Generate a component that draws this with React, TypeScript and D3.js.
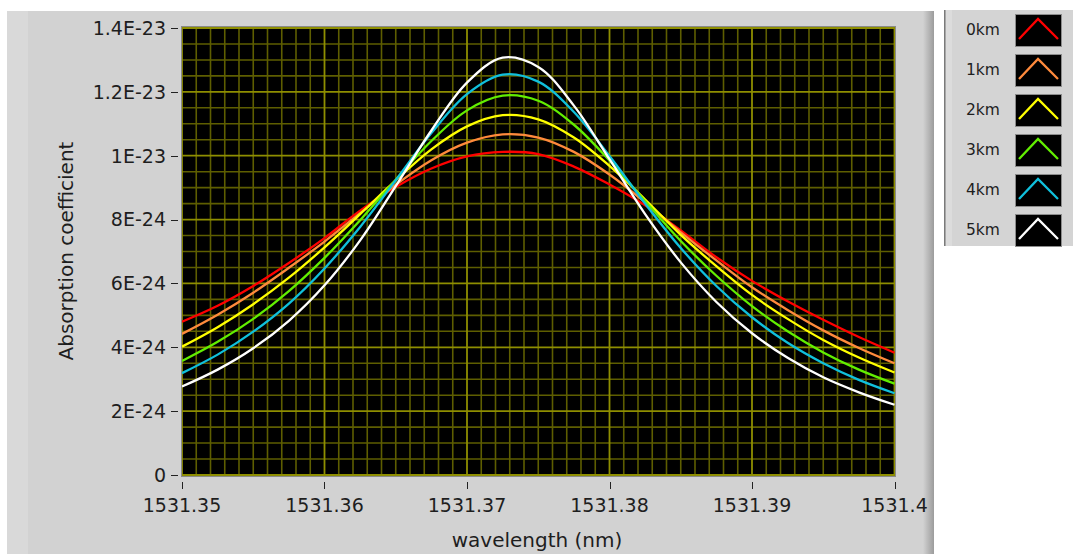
import React from "react";
import * as d3 from "d3";

// ---------- data ----------
const wavelengths = [
  1531.35, 1531.3525, 1531.355, 1531.3575, 1531.36, 1531.3625, 1531.365,
  1531.3675, 1531.37, 1531.3725, 1531.375, 1531.3775, 1531.38, 1531.3825,
  1531.385, 1531.3875, 1531.39, 1531.3925, 1531.395, 1531.3975, 1531.4,
];
const UNIT = 1e-24;
const km0 = [4.80, 5.30, 5.92, 6.64, 7.42, 8.28, 9.02, 9.60, 9.98, 10.12, 10.05, 9.66, 9.10, 8.45, 7.66, 6.82, 6.08, 5.44, 4.86, 4.32, 3.83];
const km1 = [4.42, 5.02, 5.71, 6.49, 7.31, 8.20, 9.09, 9.86, 10.41, 10.67, 10.57, 10.12, 9.41, 8.54, 7.60, 6.72, 5.88, 5.17, 4.53, 3.98, 3.50];
const km2 = [4.02, 4.63, 5.35, 6.18, 7.13, 8.17, 9.23, 10.20, 10.92, 11.27, 11.14, 10.57, 9.68, 8.63, 7.52, 6.54, 5.64, 4.89, 4.23, 3.68, 3.21];
const km3 = [3.57, 4.17, 4.89, 5.76, 6.80, 7.98, 9.25, 10.46, 11.42, 11.88, 11.72, 10.97, 9.85, 8.58, 7.33, 6.24, 5.29, 4.50, 3.84, 3.30, 2.86];
const km4 = [3.19, 3.77, 4.49, 5.37, 6.47, 7.77, 9.23, 10.71, 11.93, 12.54, 12.32, 11.37, 9.99, 8.50, 7.11, 5.92, 4.94, 4.14, 3.50, 2.98, 2.56];
const km5 = [2.77, 3.30, 3.97, 4.83, 5.94, 7.35, 9.05, 10.79, 12.29, 13.07, 12.78, 11.57, 9.89, 8.17, 6.66, 5.42, 4.44, 3.67, 3.06, 2.59, 2.20];

const seriesLabels = ["0km", "1km", "2km", "3km", "4km", "5km"];
const seriesValues = [km0, km1, km2, km3, km4, km5];

const xTickValues = [1531.35, 1531.36, 1531.37, 1531.38, 1531.39, 1531.4];
const xTickLabels = ["1531.35", "1531.36", "1531.37", "1531.38", "1531.39", "1531.4"];
const yTickValues = [0, 2e-24, 4e-24, 6e-24, 8e-24, 1e-23, 1.2e-23, 1.4e-23];
const yTickLabels = ["0", "2E-24", "4E-24", "6E-24", "8E-24", "1E-23", "1.2E-23", "1.4E-23"];

const xTitle = "wavelength (nm)";
const yTitle = "Absorption coefficient";

// ---------- styles ----------
const seriesColors = ["#ff0000", "#ff8a3c", "#ffff00", "#62ee00", "#10c0dc", "#ffffff"];
const FONT = "'DejaVu Sans', Verdana, sans-serif";
const TEXT = "#1e1e1e";

export default function App() {
  const plotL = 182, plotR = 895, plotT = 27, plotB = 476;
  const x = d3.scaleLinear().domain([1531.35, 1531.4]).range([182, 894.5]);
  const y = d3.scaleLinear().domain([0, 1.4e-23]).range([475, 28]);

  const xMinor = d3.range(0, 51).map((i) => 1531.35 + i * 0.001);
  const yMinor = d3.range(0, 29).map((i) => i * 5e-25);

  const line = d3
    .line<number>()
    .x((_, i) => x(wavelengths[i]))
    .y((v) => y(v * UNIT))
    .curve(d3.curveCatmullRom.alpha(0.5));

  return (
    <svg
      width={1073}
      height={554}
      style={{ position: "fixed", left: 0, top: 0, background: "#ffffff" }}
    >
      <defs>
        <linearGradient id="edgeR" x1="0" x2="1" y1="0" y2="0">
          <stop offset="0" stopColor="#d2d2d2" />
          <stop offset="1" stopColor="#9c9c9c" />
        </linearGradient>
        <clipPath id="plotClip">
          <rect x={plotL} y={plotT} width={plotR - plotL} height={plotB - plotT} />
        </clipPath>
      </defs>

      {/* main panel */}
      <rect x={7} y={11} width={927} height={543} fill="#d2d2d2" />
      <rect x={7} y={11} width={21} height={543} fill="#d9d9d9" />
      <rect x={923} y={11} width={11} height={543} fill="url(#edgeR)" />

      {/* plot area */}
      <rect x={plotL} y={plotT} width={plotR - plotL} height={plotB - plotT} fill="#000000" />
      <g clipPath="url(#plotClip)">
        {xMinor.map((v, i) =>
          i % 10 === 0 ? null : (
            <line
              key={"xm" + i}
              x1={x(v)}
              x2={x(v)}
              y1={plotT}
              y2={plotB}
              stroke="#5e5e00"
              strokeWidth={1.6}
            />
          )
        )}
        {yMinor.map((v, i) =>
          i % 4 === 0 ? null : (
            <line
              key={"ym" + i}
              y1={y(v)}
              y2={y(v)}
              x1={plotL}
              x2={plotR}
              stroke="#5e5e00"
              strokeWidth={1.6}
            />
          )
        )}
        {xTickValues.map((v, i) => (
          <line key={"xM" + i} x1={x(v)} x2={x(v)} y1={plotT} y2={plotB} stroke="#8e8e00" strokeWidth={1.8} />
        ))}
        {yTickValues.map((v, i) => (
          <line key={"yM" + i} y1={y(v)} y2={y(v)} x1={plotL} x2={plotR} stroke="#8e8e00" strokeWidth={1.8} />
        ))}
        {seriesValues.map((vals, k) => (
          <path
            key={"s" + k}
            d={line(vals) || ""}
            fill="none"
            stroke={seriesColors[k]}
            strokeWidth={2.3}
            strokeLinejoin="round"
          />
        ))}
      </g>
      <rect
        x={plotL - 0.5}
        y={plotT - 0.5}
        width={plotR - plotL + 1}
        height={plotB - plotT + 1}
        fill="none"
        stroke="#8a8a8a"
        strokeWidth={1}
      />

      {/* y axis ticks */}
      {yTickValues.map((v, i) => (
        <g key={"yt" + i}>
          <line x1={171} x2={178} y1={Math.round(y(v)) + 0.5} y2={Math.round(y(v)) + 0.5} stroke="#222" strokeWidth={1} />
          <text
            x={166}
            y={y(v)}
            dy="0.36em"
            textAnchor="end"
            fontFamily={FONT}
            fontSize={19}
            fill={TEXT}
          >
            {yTickLabels[i]}
          </text>
        </g>
      ))}

      {/* x axis ticks */}
      {xTickValues.map((v, i) => (
        <g key={"xt" + i}>
          <line x1={Math.round(x(v)) + 0.5} x2={Math.round(x(v)) + 0.5} y1={482} y2={489} stroke="#222" strokeWidth={1} />
          <text x={x(v)} y={512} textAnchor="middle" fontFamily={FONT} fontSize={19} fill={TEXT}>
            {xTickLabels[i]}
          </text>
        </g>
      ))}

      {/* axis titles */}
      <text x={537} y={547} textAnchor="middle" fontFamily={FONT} fontSize={20} fill={TEXT}>
        {xTitle}
      </text>
      <text
        transform="translate(73,251) rotate(-90)"
        textAnchor="middle"
        fontFamily={FONT}
        fontSize={20}
        fill={TEXT}
      >
        {yTitle}
      </text>

      {/* legend */}
      <rect x={944} y={10} width={129} height={236} fill="#d4d4d4" />
      <rect x={944} y={10} width={1.5} height={236} fill="#7a7a7a" />
      <rect x={946} y={10} width={6} height={236} fill="#dcdcdc" />
      {seriesLabels.map((lab, k) => {
        const top = 14 + k * 40;
        return (
          <g key={"lg" + k}>
            <text x={966} y={top + 21} fontFamily={FONT} fontSize={15.5} fill={TEXT}>
              {lab}
            </text>
            <rect x={1015.5} y={top + 0.5} width={46} height={32} fill="#000" stroke="#8c8c8c" strokeWidth={1} />
            <polyline
              points={`${1019},${top + 25} ${1038},${top + 5} ${1058},${top + 25}`}
              fill="none"
              stroke={seriesColors[k]}
              strokeWidth={2.3}
            />
          </g>
        );
      })}
    </svg>
  );
}
